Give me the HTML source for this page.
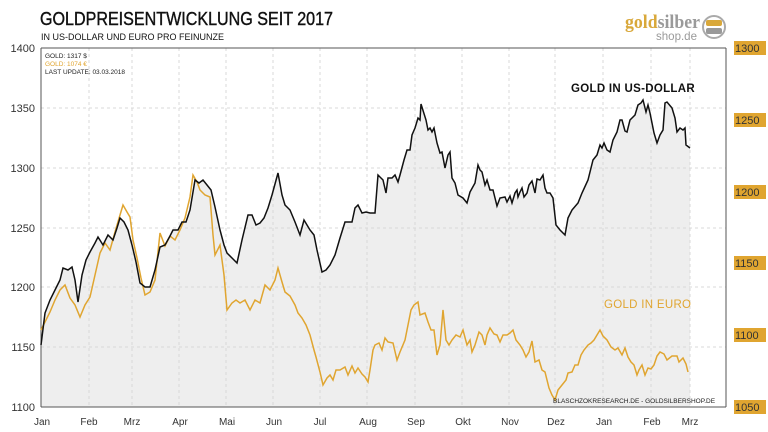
<!DOCTYPE html>
<html><head><meta charset="utf-8"><style>
body{margin:0;background:#fff;}
svg{display:block;font-family:"Liberation Sans",sans-serif;}
</style></head><body>
<svg width="768" height="432" viewBox="0 0 768 432">
<text x="40" y="25" font-size="18" fill="#111" stroke="#111" stroke-width="0.4" textLength="293" lengthAdjust="spacingAndGlyphs">GOLDPREISENTWICKLUNG  SEIT 2017</text>
<text x="41" y="40" font-size="9.5" fill="#111" textLength="183" lengthAdjust="spacingAndGlyphs">IN US-DOLLAR UND EURO PRO FEINUNZE</text>
<text x="625" y="28" font-size="19" font-weight="bold" font-family="Liberation Serif,serif" fill="#d9a83a" textLength="75" lengthAdjust="spacingAndGlyphs">gold<tspan fill="#9a9a9a">silber</tspan></text>
<text x="656" y="40" font-size="12" fill="#9a9a9a" textLength="41" lengthAdjust="spacingAndGlyphs">shop.de</text>
<circle cx="714" cy="27" r="11" fill="none" stroke="#aaa" stroke-width="2"/>
<rect x="706" y="20" width="16" height="6" rx="2" fill="#d9a83a"/>
<rect x="706" y="28" width="16" height="6" rx="2" fill="#999"/>
<path d="M41,407 L41,345 L45,313 L50,300 L55,290 L60,280 L63,268 L68,270 L72,267 L75,280 L78,302 L82,275 L86,260 L90,252 L95,243 L98,237 L103,245 L108,235 L113,240 L117,228 L120,218 L124,222 L128,230 L132,245 L136,262 L140,283 L145,287 L150,287 L155,270 L160,247 L165,245 L170,236 L173,230 L178,230 L182,222 L186,222 L190,210 L195,180 L199,183 L203,180 L207,185 L211,190 L215,207 L220,230 L224,245 L227,253 L232,258 L237,263 L242,240 L248,215 L252,215 L256,225 L260,223 L264,218 L268,208 L272,195 L278,173 L282,195 L285,205 L290,210 L295,222 L300,235 L304,220 L310,230 L314,235 L317,250 L322,272 L326,270 L330,265 L335,255 L340,238 L345,222 L352,222 L355,208 L358,205 L362,213 L366,212 L370,213 L375,213 L378,175 L383,180 L386,193 L388,178 L392,178 L395,175 L398,182 L400,175 L404,160 L407,150 L410,150 L412,135 L415,128 L418,118 L420,120 L421,104 L426,120 L428,130 L430,128 L432,132 L434,128 L437,143 L440,153 L442,152 L445,168 L448,155 L450,152 L452,178 L455,183 L458,195 L463,198 L467,203 L470,192 L475,183 L478,165 L480,170 L482,172 L485,185 L487,180 L490,190 L493,190 L495,198 L497,206 L500,198 L505,197 L507,202 L510,196 L512,203 L515,193 L517,190 L518,197 L520,192 L522,188 L524,197 L527,193 L529,185 L532,181 L535,193 L537,179 L540,180 L543,175 L545,188 L547,193 L550,193 L553,198 L556,225 L560,230 L565,235 L568,218 L572,210 L578,203 L582,193 L588,180 L593,160 L597,155 L600,145 L602,148 L604,143 L607,150 L610,152 L613,140 L617,132 L620,120 L622,120 L625,131 L627,132 L630,120 L635,115 L638,105 L641,103 L643,100 L646,112 L648,105 L650,113 L654,133 L657,143 L660,135 L663,130 L665,103 L667,102 L672,108 L675,118 L677,132 L680,128 L683,130 L685,128 L686,145 L690,148 L690,407 Z" fill="#eeeeee"/>
<g stroke="#d8d8d8" stroke-dasharray="3,3" stroke-width="1">
<line x1="41" y1="108" x2="726" y2="108"/><line x1="41" y1="168" x2="726" y2="168"/><line x1="41" y1="228" x2="726" y2="228"/><line x1="41" y1="287" x2="726" y2="287"/><line x1="41" y1="347" x2="726" y2="347"/>
<line x1="89" y1="48" x2="89" y2="407"/><line x1="132" y1="48" x2="132" y2="407"/><line x1="179" y1="48" x2="179" y2="407"/><line x1="226" y1="48" x2="226" y2="407"/><line x1="273" y1="48" x2="273" y2="407"/><line x1="320" y1="48" x2="320" y2="407"/><line x1="367" y1="48" x2="367" y2="407"/><line x1="415" y1="48" x2="415" y2="407"/><line x1="462" y1="48" x2="462" y2="407"/><line x1="509" y1="48" x2="509" y2="407"/><line x1="555" y1="48" x2="555" y2="407"/><line x1="603" y1="48" x2="603" y2="407"/><line x1="651" y1="48" x2="651" y2="407"/><line x1="690" y1="48" x2="690" y2="407"/>
</g>
<line x1="41" y1="48" x2="726" y2="48" stroke="#555"/>
<line x1="41" y1="48" x2="41" y2="407" stroke="#555"/>
<line x1="726" y1="48" x2="726" y2="407" stroke="#555"/>
<line x1="41" y1="407" x2="726" y2="407" stroke="#555"/>
<polyline fill="none" stroke="#e0a530" stroke-width="1.5" points="41,330 45,322 50,312 55,300 60,290 65,285 70,298 75,305 80,317 85,305 90,297 95,275 100,253 105,243 110,250 115,232 120,215 123,205 127,212 130,217 133,240 137,258 141,278 145,295 150,292 155,280 160,233 165,246 170,236 175,240 180,230 185,218 190,197 193,175 197,182 200,190 205,195 210,197 213,235 215,255 220,245 224,275 227,310 232,303 236,300 240,303 245,300 250,310 255,300 260,303 265,285 270,290 275,280 278,268 282,282 285,292 290,296 295,305 298,313 302,318 306,325 310,335 314,350 316,357 320,372 323,385 327,378 330,375 333,380 336,370 340,370 345,367 348,375 352,366 355,373 358,368 362,374 365,377 368,382 370,370 373,350 375,345 379,343 382,350 385,338 388,342 393,343 397,360 400,352 405,340 408,325 411,310 414,305 418,302 420,315 425,313 428,322 431,330 434,330 437,355 440,345 443,310 446,340 449,345 452,340 456,335 460,337 463,330 467,345 470,340 472,352 475,345 479,332 482,335 485,345 487,335 490,328 494,334 497,335 500,342 503,335 507,335 510,333 513,330 516,340 520,345 523,350 526,357 529,352 532,341 535,362 539,360 542,370 545,372 549,388 552,395 555,400 558,390 562,385 566,380 568,373 572,372 575,365 578,365 581,355 584,350 588,345 591,343 594,340 597,335 600,330 603,336 607,340 611,347 615,350 618,348 622,355 625,348 628,357 631,362 634,365 637,375 639,370 642,365 645,375 648,368 651,369 654,365 657,356 660,352 664,354 667,360 672,356 677,356 679,362 683,358 686,364 688,372"/>
<polyline fill="none" stroke="#111" stroke-width="1.5" points="41,345 45,313 50,300 55,290 60,280 63,268 68,270 72,267 75,280 78,302 82,275 86,260 90,252 95,243 98,237 103,245 108,235 113,240 117,228 120,218 124,222 128,230 132,245 136,262 140,283 145,287 150,287 155,270 160,247 165,245 170,236 173,230 178,230 182,222 186,222 190,210 195,180 199,183 203,180 207,185 211,190 215,207 220,230 224,245 227,253 232,258 237,263 242,240 248,215 252,215 256,225 260,223 264,218 268,208 272,195 278,173 282,195 285,205 290,210 295,222 300,235 304,220 310,230 314,235 317,250 322,272 326,270 330,265 335,255 340,238 345,222 352,222 355,208 358,205 362,213 366,212 370,213 375,213 378,175 383,180 386,193 388,178 392,178 395,175 398,182 400,175 404,160 407,150 410,150 412,135 415,128 418,118 420,120 421,104 426,120 428,130 430,128 432,132 434,128 437,143 440,153 442,152 445,168 448,155 450,152 452,178 455,183 458,195 463,198 467,203 470,192 475,183 478,165 480,170 482,172 485,185 487,180 490,190 493,190 495,198 497,206 500,198 505,197 507,202 510,196 512,203 515,193 517,190 518,197 520,192 522,188 524,197 527,193 529,185 532,181 535,193 537,179 540,180 543,175 545,188 547,193 550,193 553,198 556,225 560,230 565,235 568,218 572,210 578,203 582,193 588,180 593,160 597,155 600,145 602,148 604,143 607,150 610,152 613,140 617,132 620,120 622,120 625,131 627,132 630,120 635,115 638,105 641,103 643,100 646,112 648,105 650,113 654,133 657,143 660,135 663,130 665,103 667,102 672,108 675,118 677,132 680,128 683,130 685,128 686,145 690,148"/>
<g font-size="11" fill="#333" text-anchor="end">
<text x="35" y="52">1400</text><text x="35" y="112">1350</text><text x="35" y="172">1300</text><text x="35" y="232">1250</text><text x="35" y="291">1200</text><text x="35" y="351">1150</text><text x="35" y="411">1100</text>
</g>
<g font-size="11" fill="#333">
<rect x="734" y="41" width="32" height="14" fill="#e0a530"/><text x="735" y="52">1300</text>
<rect x="734" y="113" width="32" height="14" fill="#e0a530"/><text x="735" y="124">1250</text>
<rect x="734" y="185" width="32" height="14" fill="#e0a530"/><text x="735" y="196">1200</text>
<rect x="734" y="256" width="32" height="14" fill="#e0a530"/><text x="735" y="267">1150</text>
<rect x="734" y="328" width="32" height="14" fill="#e0a530"/><text x="735" y="339">1100</text>
<rect x="734" y="400" width="32" height="14" fill="#e0a530"/><text x="735" y="411">1050</text>
</g>
<g font-size="10" fill="#333" text-anchor="middle">
<text x="42" y="425">Jan</text><text x="89" y="425">Feb</text><text x="132" y="425">Mrz</text><text x="180" y="425">Apr</text><text x="227" y="425">Mai</text><text x="274" y="425">Jun</text><text x="320" y="425">Jul</text><text x="368" y="425">Aug</text><text x="416" y="425">Sep</text><text x="463" y="425">Okt</text><text x="510" y="425">Nov</text><text x="556" y="425">Dez</text><text x="604" y="425">Jan</text><text x="652" y="425">Feb</text><text x="690" y="425">Mrz</text>
</g>
<g font-size="6.5">
<text x="45" y="58" fill="#222">GOLD: 1317 $</text>
<text x="45" y="66" fill="#e0a530">GOLD: 1074 €</text>
<text x="45" y="74" fill="#222">LAST UPDATE: 03.03.2018</text>
<text x="553" y="403" fill="#222">BLASCHZOKRESEARCH.DE  -  GOLDSILBERSHOP.DE</text>
</g>
<text x="571" y="92" font-size="11.5" font-weight="bold" fill="#111" letter-spacing="0.3">GOLD IN US-DOLLAR</text>
<text x="604" y="308" font-size="11.5" fill="#e0a530" letter-spacing="0.3">GOLD IN EURO</text>
</svg>
</body></html>
